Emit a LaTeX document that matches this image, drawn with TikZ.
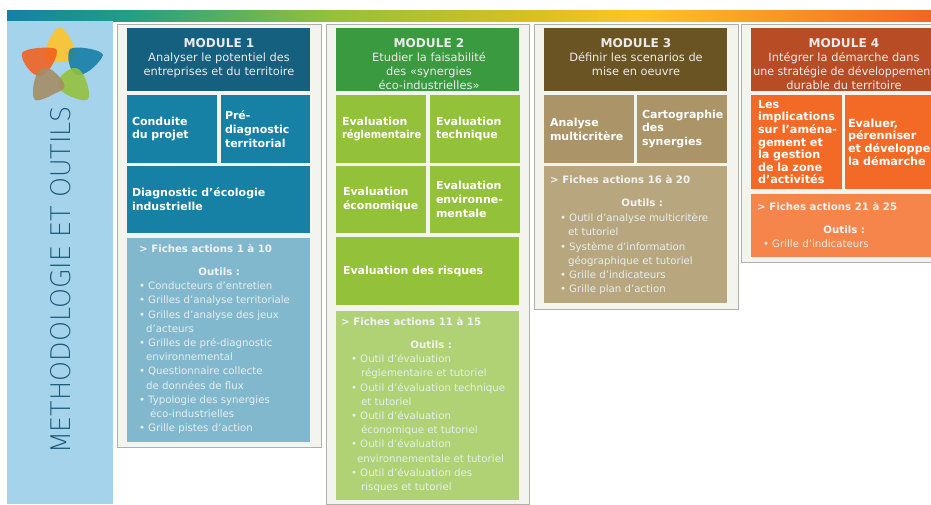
\documentclass[tikz,border=0pt]{standalone}
\usepackage{fontspec}
\setmainfont{DejaVu Sans}
\newfontfamily\thinfont{DejaVu Sans ExtraLight}
\newcommand{\Bu}{\textbullet\hspace{3pt}}
\newcommand{\Hs}[1]{\hspace*{#1pt}}
\newcommand{\Ou}[1]{\makebox[#1pt][c]{\bfseries\color{white!95!black}Outils :}}
\definecolor{hOne}{HTML}{155F7F}\definecolor{bOne}{HTML}{1680A5}\definecolor{tOne}{HTML}{82B8CE}
\definecolor{hTwo}{HTML}{3A9A3F}\definecolor{bTwo}{HTML}{94C13A}\definecolor{tTwo}{HTML}{B0D274}
\definecolor{hThr}{HTML}{6B5423}\definecolor{bThr}{HTML}{AB9467}\definecolor{tThr}{HTML}{B8A67F}
\definecolor{hFou}{HTML}{B84C25}\definecolor{bFou}{HTML}{F26A25}\definecolor{tFou}{HTML}{F5854B}
\definecolor{side}{HTML}{A6D3EC}\definecolor{frm}{HTML}{F4F4EF}\definecolor{frmline}{HTML}{B0B0AA}
\definecolor{tooltext}{HTML}{E6EFEF}
\tikzset{
  x=1pt,y=-1pt,
  panel/.style={draw=frmline,line width=0.9pt,fill=frm},
  tile/.style={anchor=north west,inner sep=0pt,outer sep=0pt,text=white},
  headbox/.style={tile,minimum height=63pt},
  head/.style={anchor=north,inner sep=0pt,align=center,font=\fontsize{11.4}{14}\selectfont,text=white!92!black},
  cell/.style={tile,align=left,font=\fontsize{11}{13.8}\bfseries\selectfont},
  tools/.style={anchor=north west,inner sep=0pt,align=left,text=tooltext,font=\fontsize{10.2}{14.2}\selectfont},
  petal/.style={draw=none,fill opacity=0.88},
}
\newcommand{\Mh}[1]{{\fontsize{12.1}{14}\bfseries\selectfont #1}}
\newcommand{\Fi}[1]{{\fontsize{10.2}{14.2}\bfseries\selectfont\color{white!95!black}#1}}
\begin{document}
\begin{tikzpicture}
\useasboundingbox (0,0) rectangle (931,504);
\clip (0,0) rectangle (931,504);
% gradient bar
\fill[left color=bOne,right color={rgb,255:red,31;green,158;blue,133}] (7,10) rectangle (125,21);
\fill[left color={rgb,255:red,31;green,158;blue,133},right color=bTwo] (124.5,10) rectangle (330,21);
\fill[left color=bTwo,right color={rgb,255:red,216;green,192;blue,32}] (329.5,10) rectangle (530,21);
\fill[left color={rgb,255:red,216;green,192;blue,32},right color={rgb,255:red,255;green,196;blue,37}] (529.5,10) rectangle (640,21);
\fill[left color={rgb,255:red,255;green,196;blue,37},right color={rgb,255:red,242;green,101;blue,34}] (639.5,10) rectangle (931,21);
% side panel
\fill[side] (7,21) rectangle (113,504);
% logo
\fill[petal,fill={rgb,255:red,255;green,196;blue,37}] (60,27) .. controls (66,28) and (78,50) .. (76,57) .. controls (73,64) and (48,64) .. (45,57) .. controls (43,50) and (54,27) .. (60,27) -- cycle;
\fill[petal,fill={rgb,255:red,20;green,125;blue,165}] (103,55) .. controls (101,62) and (86,76) .. (78,75) .. controls (69,74) and (66,54) .. (70,49) .. controls (76,45) and (103,50) .. (103,55) -- cycle;
\fill[petal,fill={rgb,255:red,242;green,95;blue,30}] (22,53) .. controls (24,48) and (52,46) .. (56,49) .. controls (60,53) and (50,74) .. (40,76) .. controls (32,77) and (20,60) .. (22,53) -- cycle;
\fill[petal,fill={rgb,255:red,148;green,193;blue,58}] (87,100) .. controls (80,102) and (60,93) .. (58,87) .. controls (55,79) and (68,67) .. (76,68) .. controls (85,69) and (93,98) .. (87,100) -- cycle;
\fill[petal,fill={rgb,255:red,165;green,140;blue,100}] (35,100) .. controls (31,97) and (33,76) .. (40,70) .. controls (46,65) and (52,68) .. (62,80) .. controls (68,88) and (62,90) .. (60,91) .. controls (52,95) and (40,102) .. (35,100) -- cycle;
\node[rotate=90,anchor=center,inner sep=0pt,text={rgb,255:red,24;green,88;blue,118},font=\thinfont\fontsize{27}{30}\selectfont] (title) at (61,280) {\scalebox{0.94}[1]{METHODOLOGIE ET OUTILS}};
% frames
\draw[panel] (117,24) rectangle (321,447);
\draw[panel] (326,24) rectangle (529,504);
\draw[panel] (534,24) rectangle (738,309);
\draw[panel] (741,24) rectangle (945,262);
% module 1
\node[headbox,fill=hOne,minimum width=183pt] (m1) at (127,28) {};
\node[head] (m1h) at (219,38) {\Mh{MODULE 1}\\Analyser le potentiel des\\entreprises et du territoire};
\node[cell,fill=bOne,text width=90pt,minimum height=68pt] (m1a) at (127,95) {\Hs{5}Conduite\\\Hs{5}du projet};
\node[cell,fill=bOne,text width=89pt,minimum height=68pt] (m1b) at (221,95) {\Hs{4}Pré-\\\Hs{4}diagnostic\\\Hs{4}territorial};
\node[cell,fill=bOne,text width=183pt,minimum height=67pt] (m1c) at (127,166) {\Hs{5}Diagnostic d’écologie\\\Hs{5}industrielle};
\node[tile,fill=tOne,minimum width=183pt,minimum height=204pt] (m1d) at (127,238) {};
\node[tools] (m1t) at (139,244) {\Fi{> Fiches actions 1 à 10}\\[9pt]
\Hs{0}\Ou{160}\\
\Bu Conducteurs d’entretien\\
\Bu Grilles d’analyse territoriale\\
\Bu Grilles d’analyse des jeux\\
\Hs{7}d’acteurs\\
\Bu Grilles de pré-diagnostic\\
\Hs{7}environnemental\\
\Bu Questionnaire collecte\\
\Hs{7}de données de flux\\
\Bu Typologie des synergies\\
\Hs{11}éco-industrielles\\
\Bu Grille pistes d’action};
% module 2
\node[headbox,fill=hTwo,minimum width=183pt] (m2) at (336,28) {};
\node[head] (m2h) at (429,38) {\Mh{MODULE 2}\\Etudier la faisabilité\\des «synergies\\éco-industrielles»};
\node[cell,fill=bTwo,text width=90pt,minimum height=68pt] (m2a) at (336,95) {\Hs{6}Evaluation\\\Hs{6}\scalebox{0.9}[1]{réglementaire}};
\node[cell,fill=bTwo,text width=90pt,minimum height=68pt] (m2b) at (430,95) {\Hs{6}Evaluation\\\Hs{6}technique};
\node[cell,fill=bTwo,text width=90pt,minimum height=67pt] (m2c) at (336,166) {\Hs{7}Evaluation\\\Hs{7}économique};
\node[cell,fill=bTwo,text width=90pt,minimum height=67pt] (m2d) at (430,166) {\Hs{6}Evaluation\\\Hs{6}environne-\\\Hs{6}mentale};
\node[cell,fill=bTwo,text width=183pt,minimum height=68pt] (m2e) at (336,237) {\Hs{7}Evaluation des risques};
\node[tile,fill=tTwo,minimum width=183pt,minimum height=189pt] (m2f) at (336,311) {};
\node[tools] (m2t) at (341,317) {\Fi{> Fiches actions 11 à 15}\\[9pt]
\Ou{180}\\
\Hs{10}\Bu Outil d’évaluation\\
\Hs{20}réglementaire et tutoriel\\
\Hs{10}\Bu Outil d’évaluation technique\\
\Hs{20}et tutoriel\\
\Hs{10}\Bu Outil d’évaluation\\
\Hs{20}économique et tutoriel\\
\Hs{10}\Bu Outil d’évaluation\\
\Hs{16}environnementale et tutoriel\\
\Hs{10}\Bu Outil d’évaluation des\\
\Hs{20}risques et tutoriel};
% module 3
\node[headbox,fill=hThr,minimum width=183pt] (m3) at (544,28) {};
\node[head] (m3h) at (636,38) {\Mh{MODULE 3}\\Définir les scenarios de\\mise en oeuvre};
\node[cell,fill=bThr,text width=90pt,minimum height=68pt] (m3a) at (544,95) {\Hs{6}Analyse\\\Hs{6}multicritère};
\node[cell,fill=bThr,text width=90pt,minimum height=68pt] (m3b) at (637,95) {\Hs{5}Cartographie\\\Hs{5}des\\\Hs{5}synergies};
\node[tile,fill=tThr,minimum width=183pt,minimum height=137pt] (m3c) at (544,166) {};
\node[tools] (m3t) at (550,175) {\Fi{> Fiches actions 16 à 20}\\[9pt]
\Ou{184}\\[1pt]
\Hs{10}\Bu Outil d’analyse multicritère\\
\Hs{18}et tutoriel\\
\Hs{10}\Bu Système d’information\\
\Hs{18}géographique et tutoriel\\
\Hs{10}\Bu Grille d’indicateurs\\
\Hs{10}\Bu Grille plan d’action};
% module 4
\node[headbox,fill=hFou,minimum width=190pt] (m4) at (751,28) {};
\node[head] (m4h) at (844,38) {\Mh{MODULE 4}\\Intégrer la démarche dans\\\scalebox{0.97}[1]{une stratégie de développement}\\durable du territoire};
\node[cell,fill=bFou,text width=91pt,minimum height=94pt,font=\fontsize{11.2}{12.6}\bfseries\selectfont] (m4a) at (751,95) {\Hs{7}Les\\\Hs{7}implications\\\Hs{7}sur l’aména-\\\Hs{7}gement et\\\Hs{7}la gestion\\\Hs{7}de la zone\\\Hs{7}d’activités};
\node[cell,fill=bFou,text width=95pt,minimum height=94pt,font=\fontsize{11.2}{12.6}\bfseries\selectfont] (m4b) at (845,95) {\Hs{3}Evaluer,\\\Hs{3}pérenniser\\\Hs{3}et développer\\\Hs{3}la démarche};
\node[tile,fill=tFou,minimum width=190pt,minimum height=63pt] (m4c) at (751,194) {};
\node[tools] (m4t) at (757,202) {\Fi{> Fiches actions 21 à 25}\\[9pt]
\Ou{174}\\
\Hs{6}\Bu Grille d’indicateurs};
\end{tikzpicture}
\end{document}
